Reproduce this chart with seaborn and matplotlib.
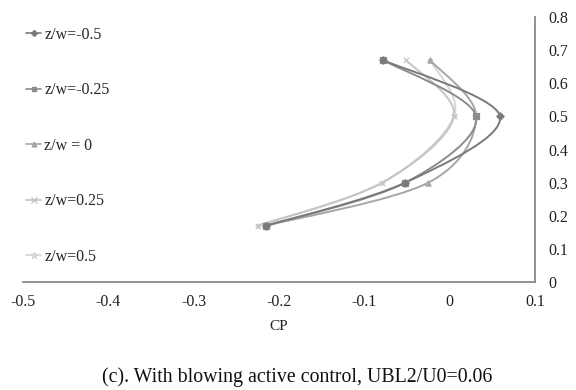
import numpy as np
import pandas as pd
import matplotlib
matplotlib.use("Agg")
import matplotlib.pyplot as plt
from matplotlib.path import Path
from matplotlib.patches import PathPatch
from matplotlib.lines import Line2D
import seaborn as sns

# Measurement heights (y) and pressure coefficient for each spanwise station
heights = [0.67, 0.50, 0.30, 0.17]
series_names = ["z/w=-0.5", "z/w=-0.25", "z/w = 0", "z/w=0.25", "z/w=0.5"]
cp_m050 = [-0.078, 0.059, -0.052, -0.215]
cp_m025 = [-0.078, 0.031, -0.052, -0.215]
cp_000 = [-0.023, 0.031, -0.025, -0.215]
cp_p025 = [-0.051, 0.005, -0.079, -0.225]
cp_p050 = [-0.023, 0.005, -0.079, -0.225]

x_ticks = [-0.5, -0.4, -0.3, -0.2, -0.1, 0, 0.1]
x_tick_labels = ["-0.5", "-0.4", "-0.3", "-0.2", "-0.1", "0", "0.1"]
y_ticks = [0, 0.1, 0.2, 0.3, 0.4, 0.5, 0.6, 0.7, 0.8]
y_tick_labels = ["0", "0.1", "0.2", "0.3", "0.4", "0.5", "0.6", "0.7", "0.8"]

colors = ["#7a7a7a", "#8c8c8c", "#a6a6a6", "#c4c4c4", "#d6d6d6"]
markers = ["D", "s", "^", "x", "*"]
marker_sizes = [3.0, 3.2, 3.4, 4.0, 4.5]

all_cp = [cp_m050, cp_m025, cp_000, cp_p025, cp_p050]
df = pd.DataFrame({
    "CP": np.concatenate(all_cp),
    "y": heights * len(series_names),
    "series": np.repeat(series_names, len(heights)),
})

sns.set_theme(style="white")
plt.rcParams["font.family"] = ["Liberation Serif", "DejaVu Serif"]

fig = plt.figure(figsize=(5.76, 3.90), dpi=100)
ax = fig.add_axes([23 / 576, 1 - 282 / 390, (535 - 23) / 576, (282 - 17) / 390])


def smooth_path(xs, ys):
    """Cubic Bezier path through the points, Excel-style smoothing."""
    pts = np.column_stack([xs, ys])
    n = len(pts)
    verts = [pts[0]]
    codes = [Path.MOVETO]
    for i in range(n - 1):
        p0 = pts[i - 1] if i > 0 else pts[i]
        p1 = pts[i]
        p2 = pts[i + 1]
        p3 = pts[i + 2] if i + 2 < n else pts[i + 1]
        c1 = p1 + (p2 - p0) / 6.0
        c2 = p2 - (p3 - p1) / 6.0
        verts += [c1, c2, p2]
        codes += [Path.CURVE4] * 3
    return Path(verts, codes)


# draw lighter series first so darker curves sit on top
order = list(range(len(series_names)))[::-1]
for i in order:
    patch = PathPatch(smooth_path(all_cp[i], heights), facecolor="none",
                      edgecolor=colors[i], lw=1.4, zorder=2)
    ax.add_patch(patch)

for i in order:
    sub = df[df["series"] == series_names[i]]
    filled = markers[i] not in ("x", "+")
    kw = dict(edgecolor=colors[i]) if filled else {}
    sns.scatterplot(data=sub, x="CP", y="y", color=colors[i], marker=markers[i],
                    s=14, linewidth=0.9, legend=False, ax=ax, zorder=3, **kw)

ax.set_xlim(-0.5, 0.1)
ax.set_ylim(0, 0.8)
ax.set_xticks(x_ticks)
ax.set_xticklabels(x_tick_labels, fontsize=11.5)
ax.set_yticks(y_ticks)
ax.set_yticklabels(y_tick_labels, fontsize=11.5)
ax.yaxis.tick_right()
ax.tick_params(axis="y", length=0, pad=9.5, colors="#222222")
ax.tick_params(axis="x", length=0, pad=8.5, colors="#222222")
for s in ["top", "left"]:
    ax.spines[s].set_visible(False)
for s in ["bottom", "right"]:
    ax.spines[s].set_color("#8a8a8a")
    ax.spines[s].set_linewidth(1.3)
ax.set_xlabel("CP", fontsize=11, labelpad=7, color="#222222")
ax.set_ylabel("")

handles = [Line2D([0], [0], color=c, lw=1.2, marker=m, markersize=ms)
           for c, m, ms in zip(colors, markers, marker_sizes)]
fig.legend(handles, series_names, loc="upper left",
           bbox_to_anchor=(26 / 576, 1 - 27 / 390), frameon=False,
           fontsize=11.5, handlelength=0.95, handletextpad=0.2,
           labelspacing=2.47, borderpad=0, borderaxespad=0)

fig.text(297 / 576, 1 - 377 / 390, "(c). With blowing active control, UBL2/U0=0.06",
         ha="center", va="center", fontsize=14.3, color="#111111")

fig.savefig("out.png", dpi=100, facecolor="white")
